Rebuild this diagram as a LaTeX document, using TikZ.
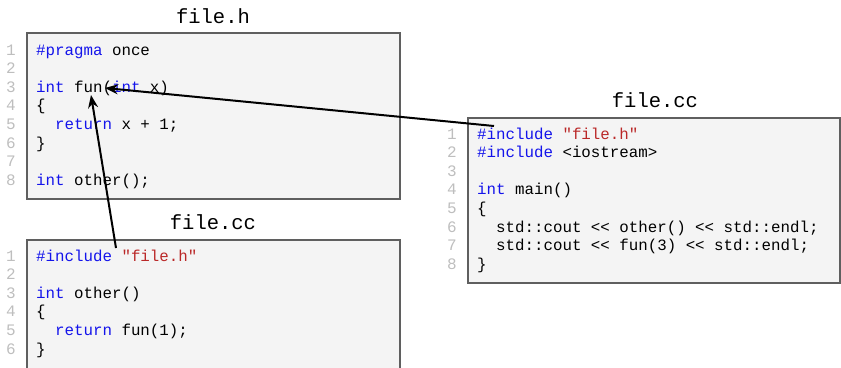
\documentclass[tikz,border=0pt]{standalone}
\usepackage{fontspec}
\usetikzlibrary{arrows.meta}
\newfontfamily\codefont{Liberation Mono}

\definecolor{kwblue}{RGB}{20,20,235}
\definecolor{strred}{RGB}{186,40,40}
\definecolor{lnogray}{RGB}{190,190,190}
\definecolor{boxfill}{RGB}{244,244,244}
\definecolor{boxline}{RGB}{95,95,95}

\newcommand{\kwd}[1]{\textcolor{kwblue}{#1}}
\newcommand{\strlit}[1]{\textcolor{strred}{#1}}
\newcommand{\ind}{\phantom{xx}}

\begin{document}
\begin{tikzpicture}[x=1pt, y=-1pt,
    codebox/.style={draw=boxline, fill=boxfill, line width=1.6pt},
    title/.style={font=\codefont\fontsize{20.5}{24}\selectfont, anchor=base},
    code/.style={font=\codefont\fontsize{15.8}{19}\selectfont, anchor=base west, inner sep=0pt},
    lineno/.style={font=\codefont\fontsize{16}{19}\selectfont, text=lnogray, anchor=base, inner sep=0pt},
    ref/.style={-{Stealth[length=13pt, width=10pt]}, line width=2pt}]
    \useasboundingbox (0,0) rectangle (841,367);

    % file.h
    \node[title] (hTitle) at (213, 23) {file.h};
    \draw[codebox] (27, 33) rectangle (400, 199);
    \foreach \n [evaluate=\n as \yy using 36.4+18.6*\n] in {1,...,8}
        \node[lineno] (hNo\n) at (11, \yy) {\n};
    \node[code] (hL1) at (36, 55)    {\kwd{\#pragma} once};
    \node[code] (hL3) at (36, 92.2)  {\kwd{int} fun(\kwd{int} x)};
    \node[code] (hL4) at (36, 110.8) {\{};
    \node[code] (hL5) at (36, 129.4) {\ind\kwd{return} x + 1;};
    \node[code] (hL6) at (36, 148)   {\}};
    \node[code] (hL8) at (36, 185.2) {\kwd{int} other();};

    % file.cc (other)
    \node[title] (aTitle) at (213, 229) {file.cc};
    \draw[codebox] (27, 240) rectangle (400, 380);
    \foreach \n [evaluate=\n as \yy using 242.4+18.6*\n] in {1,...,6}
        \node[lineno] (aNo\n) at (11, \yy) {\n};
    \node[code] (aL1) at (36, 261)   {\kwd{\#include} \strlit{"file.h"}};
    \node[code] (aL3) at (36, 298.2) {\kwd{int} other()};
    \node[code] (aL4) at (36, 316.8) {\{};
    \node[code] (aL5) at (36, 335.4) {\ind\kwd{return} fun(1);};
    \node[code] (aL6) at (36, 354)   {\}};

    % file.cc (main)
    \node[title] (bTitle) at (655, 107) {file.cc};
    \draw[codebox] (468, 118) rectangle (840, 283);
    \foreach \n [evaluate=\n as \yy using 120.4+18.6*\n] in {1,...,8}
        \node[lineno] (bNo\n) at (452, \yy) {\n};
    \node[code] (bL1) at (477, 139)   {\kwd{\#include} \strlit{"file.h"}};
    \node[code] (bL2) at (477, 157.6) {\kwd{\#include} <iostream>};
    \node[code] (bL4) at (477, 194.8) {\kwd{int} main()};
    \node[code] (bL5) at (477, 213.4) {\{};
    \node[code] (bL6) at (477, 232)   {\ind std::cout << other() << std::endl;};
    \node[code] (bL7) at (477, 250.6) {\ind std::cout << fun(3) << std::endl;};
    \node[code] (bL8) at (477, 269.2) {\}};

    % references
    \coordinate (funDecl) at (105, 88);
    \coordinate (funUse) at (91, 95);
    \coordinate (bInc) at (494, 126);
    \coordinate (aInc) at (116, 248);
    \draw[ref] (bInc) -- (funDecl);
    \draw[ref] (aInc) -- (funUse);
\end{tikzpicture}
\end{document}
